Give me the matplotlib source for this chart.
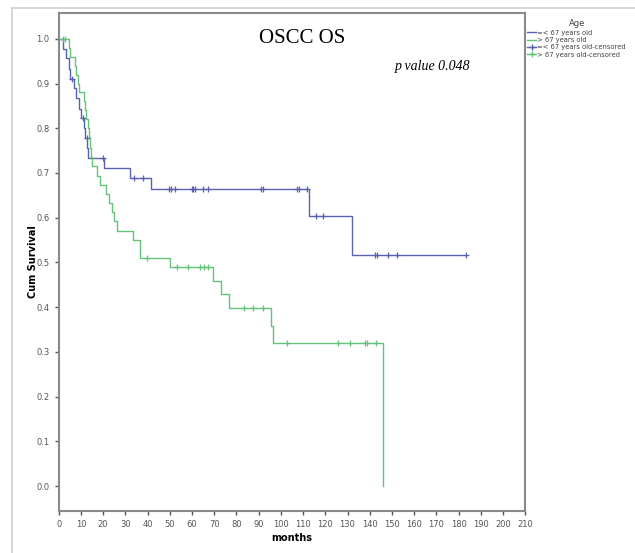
import matplotlib.pyplot as plt
import numpy as np
from matplotlib.lines import Line2D

# group <= 67 years old: event times (months) and survival after each event
young_t = [0, 2, 3.5, 4.5, 5, 7, 8, 9, 10, 11.5, 12, 12.8, 13.2, 20.5, 32, 41.4, 112.8, 131.8]
young_s = [1.0, 0.978, 0.956, 0.933, 0.911, 0.889, 0.867, 0.844, 0.822, 0.800, 0.778, 0.756,
           0.733, 0.711, 0.689, 0.664, 0.604, 0.517]
young_cens = [6.2, 10.8, 12.6, 20.0, 34, 38, 49.6, 50.5, 52.4, 59.8, 60.6, 61.3, 65.1, 67.3,
              91, 92.1, 107.1, 108.1, 111.9, 115.8, 119.1, 142.3, 143.4, 148.3, 152.1, 183.2]
young_end = 183.2

# group > 67 years old
old_t = [0, 4.5, 5.2, 7.5, 8.0, 8.8, 9.3, 11.5, 12.0, 12.5, 13.0, 13.5, 14.0, 14.5, 15.0, 17.2,
         18.5, 21.5, 22.5, 24, 25, 26.1, 33.3, 36.6, 50.1, 69.3, 72.9, 76.8, 95.4, 96.3, 146.1]
old_s = [1.0, 0.98, 0.96, 0.94, 0.92, 0.90, 0.88, 0.86, 0.84, 0.82, 0.80, 0.78, 0.755, 0.735,
         0.715, 0.694, 0.673, 0.653, 0.633, 0.612, 0.592, 0.571, 0.551, 0.510, 0.490, 0.458,
         0.430, 0.398, 0.359, 0.319, 0.0]
old_cens = [1.9, 3.0, 39.6, 53.1, 58.4, 63.6, 65.4, 67.3, 83.5, 87.6, 92.1, 102.9, 125.5,
            131.1, 138, 138.6, 142.8]
old_end = 146.1

blue = '#5a62b0'
green = '#63c37a'


def surv_at(t, times, surv):
    i = np.searchsorted(times, t, side='right') - 1
    return np.array(surv)[i]


fig = plt.figure(figsize=(6.35, 5.53), dpi=100)
ax = fig.add_axes([0.0924, 0.0765, 0.7348, 0.8995])

for times, surv, cens, end, col in [(young_t, young_s, young_cens, young_end, blue),
                                     (old_t, old_s, old_cens, old_end, green)]:
    xs = list(times) + [end]
    ys = list(surv) + [surv[-1]]
    ax.step(xs, ys, where='post', color=col, lw=1.0)
    ax.plot(cens, surv_at(cens, times, surv), '+', color=col, ms=5, mew=0.9, ls='none')

ax.set_xlim(0, 210)
ax.set_ylim(-0.055, 1.057)
ax.set_xticks(np.arange(0, 211, 10))
ax.set_yticks(np.arange(0, 1.01, 0.1))
ax.set_yticklabels(['%.1f' % v for v in np.arange(0, 1.01, 0.1)])
ax.tick_params(labelsize=6, labelcolor='#555555', color='#555555', length=3, width=1)
for sp in ax.spines.values():
    sp.set_color('#8a8a8a')
    sp.set_linewidth(1.5)

ax.set_xlabel('months', fontsize=7, fontweight='bold', labelpad=3)
ax.set_ylabel('Cum Survival', fontsize=7, fontweight='bold', labelpad=-1)

ax.text(0.521, 0.950, 'OSCC OS', transform=ax.transAxes, ha='center', va='center',
        family='Liberation Serif', fontsize=15)
ax.text(0.802, 0.892, 'p value 0.048', transform=ax.transAxes, ha='center', va='center',
        family='Liberation Serif', style='italic', fontsize=10)

handles = [Line2D([], [], color=blue, lw=1),
           Line2D([], [], color=green, lw=1),
           Line2D([], [], color=blue, lw=1, marker='+', ms=4),
           Line2D([], [], color=green, lw=1, marker='+', ms=4)]
labels = ['=< 67 years old', '> 67 years old', '=< 67 years old-censored',
          '> 67 years old-censored']
leg = fig.legend(handles, labels, loc='upper left', bbox_to_anchor=(0.826, 0.97),
                 frameon=False, fontsize=4.9, title='Age', title_fontsize=6,
                 handlelength=1.3, handletextpad=0.2, labelspacing=0.2, borderaxespad=0)
leg.get_title().set_color('#444444')
for txt in leg.get_texts():
    txt.set_color('#444444')

# light frame around the chart region
fig.add_artist(Line2D([12 / 635, 1], [1 - 8 / 553, 1 - 8 / 553], color='#d0d0d0', lw=1.2))
fig.add_artist(Line2D([12 / 635, 12 / 635], [0, 1 - 8 / 553], color='#d0d0d0', lw=1.2))

fig.savefig('out.png', dpi=100)
